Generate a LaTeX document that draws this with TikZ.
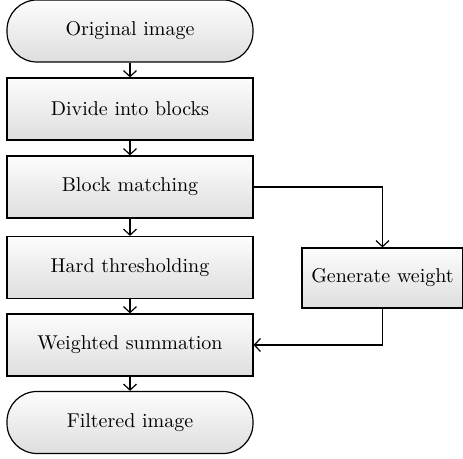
\documentclass[tikz,border=0pt]{standalone}
\usetikzlibrary{arrows.meta}
\begin{document}
\begin{tikzpicture}[x=0.5pt,y=-0.5pt,
    stepbox/.style={draw,line width=0.6pt,top color=gray!2,bottom color=gray!26,minimum width=123pt,minimum height=31pt,inner sep=0pt},
    termbox/.style={stepbox,rounded corners=15pt},
    flow/.style={line width=0.6pt,-{Straight Barb[length=3pt,width=6.5pt]}}]
        \useasboundingbox (0,0) rectangle (463,459);
        %% Main column
        \node[termbox] (orig) at (130,31) {Original image};
        \node[stepbox] (divide) at (130,109) {Divide into blocks};
        \node[stepbox] (match) at (130,187) {Block matching};
        \node[stepbox] (hard) at (130,267.5) {Hard thresholding};
        \node[stepbox] (wsum) at (130,345) {Weighted summation};
        \node[termbox] (filt) at (130,422.5) {Filtered image};
        %% Side branch
        \node[stepbox,minimum width=80.5pt,minimum height=30pt] (gen) at (382.5,278) {Generate weight};
        %% Arrows
        \draw[flow] (orig) to (divide);
        \draw[flow] (divide) to (match);
        \draw[flow] (match) to (hard);
        \draw[flow] (hard) to (wsum);
        \draw[flow] (wsum) to (filt);
        \draw[flow] (match.east) -| (gen.north);
        \draw[flow] (gen.south) |- (wsum.east);
    \end{tikzpicture}
\end{document}
